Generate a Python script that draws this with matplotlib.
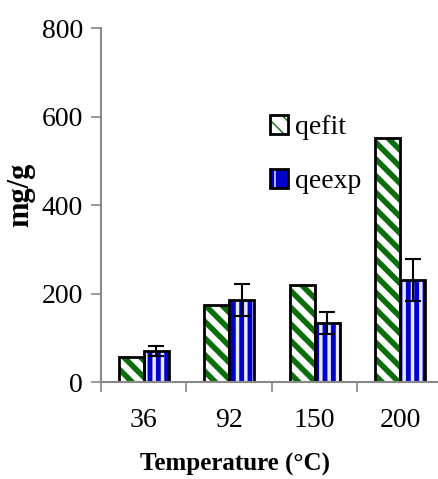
import matplotlib
matplotlib.use("Agg")
import matplotlib.pyplot as plt
import numpy as np
from matplotlib.patches import Patch
from matplotlib.legend_handler import HandlerTuple

categories = ["36", "92", "150", "200"]
qefit = [56, 174, 219, 551]
qeexp = [70, 185, 133, 230]
qeexp_err = [12, 36, 25, 47]

plt.rcParams['font.family'] = ['Liberation Serif', 'DejaVu Serif']

fig = plt.figure(figsize=(4.39, 4.79), dpi=100)
ax = fig.add_axes([0.230, 0.2025, 0.779, 0.739])

x = np.arange(1, len(categories) + 1)
w = 0.29
green = '#0b6e0b'
blue = '#0000cc'


def set_hlw(patches, lw):
    for p in patches:
        if hasattr(p, 'set_hatch_linewidth'):
            p.set_hatch_linewidth(lw)


# hatched fills first, then black outlines on top
with plt.rc_context({'hatch.linewidth': 4}):
    b1 = ax.bar(x - w/2, qefit, w, color='white', edgecolor=green, hatch='\\\\', linewidth=0)
    set_hlw(b1, 4)
with plt.rc_context({'hatch.linewidth': 2.5}):
    b2 = ax.bar(x + w/2, qeexp, w, color=blue, edgecolor='#e8e8ff', hatch='||', linewidth=0)
    set_hlw(b2, 2.5)
ax.bar(x - w/2, qefit, w, fill=False, edgecolor='black', linewidth=2)
ax.bar(x + w/2, qeexp, w, fill=False, edgecolor='black', linewidth=2)
ax.errorbar(x + w/2, qeexp, yerr=qeexp_err, fmt='none', ecolor='black',
            elinewidth=1.5, capsize=6, capthick=1.5)

ax.set_xlim(0.5, 4.5)
ax.set_ylim(0, 800)
ax.set_yticks([0, 200, 400, 600, 800])
ax.set_xticks(np.arange(0.5, 4.5, 1))
ax.set_xticklabels([])
ax.set_xticks(x, minor=True)
ax.set_xticklabels(categories, minor=True)
ax.tick_params(axis='x', which='minor', length=0, labelsize=20, pad=19)
ax.tick_params(axis='x', which='major', length=7, color='#888888', width=1.2)
ax.tick_params(axis='y', length=7, color='#888888', width=1.2, labelsize=20, pad=6)

for s in ['top', 'right']:
    ax.spines[s].set_visible(False)
for s in ['left', 'bottom']:
    ax.spines[s].set_color('#888888')
    ax.spines[s].set_linewidth(1.5)

ax.set_ylabel('mg/g', fontsize=22, fontweight='bold')
ax.yaxis.set_label_coords(-0.193, 0.53)
ax.set_xlabel('Temperature (°C)', fontsize=18, fontweight='bold')
ax.xaxis.set_label_coords(0.392, -0.20)

with plt.rc_context({'hatch.linewidth': 3}):
    h1f = Patch(facecolor='white', edgecolor=green, hatch='\\\\', linewidth=0)
    h2f = Patch(facecolor=blue, edgecolor='white', hatch='|', linewidth=0)
set_hlw([h1f], 3)
set_hlw([h2f], 3)
h1o = Patch(fill=False, edgecolor='black', linewidth=2)
h2o = Patch(fill=False, edgecolor='black', linewidth=2)
leg = ax.legend([(h1f, h1o), (h2f, h2o)], ['qefit', 'qeexp'], loc='upper left',
                handler_map={tuple: HandlerTuple(ndivide=1, pad=0)},
                bbox_to_anchor=(0.462, 0.785), frameon=False, fontsize=20,
                handlelength=0.65, handleheight=0.65, handletextpad=0.25,
                labelspacing=1.05, borderaxespad=0)

fig.savefig("out.png", dpi=100)
